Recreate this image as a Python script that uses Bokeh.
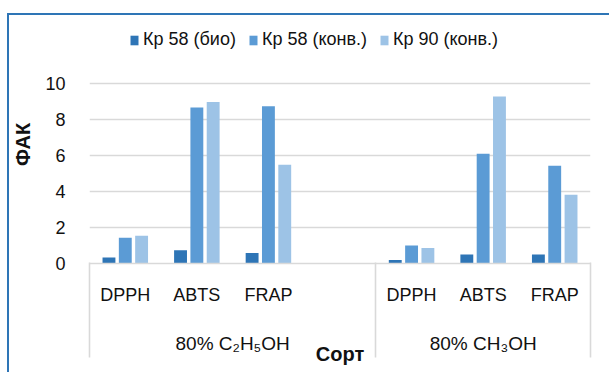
import numpy as np
from bokeh.plotting import figure
from bokeh.models import (Range1d, ColumnDataSource, Legend, LegendItem,
                          LinearAxis, FixedTicker, Spacer)
from bokeh.layouts import row, column
from bokeh.embed import file_html
from bokeh.resources import INLINE

# ---- data ----
groups = ["80% C₂H₅OH", "80% CH₃OH"]
methods_c2h5oh = ["DPPH", "ABTS", "FRAP", ""]
methods_ch3oh = ["DPPH", "ABTS", "FRAP"]
series_names = ["Кр 58 (био)", "Кр 58 (конв.)", "Кр 90 (конв.)"]
kr58_bio = [0.33, 0.74, 0.58, np.nan, 0.19, 0.50, 0.50]
kr58_konv = [1.43, 8.67, 8.74, np.nan, 1.00, 6.09, 5.43]
kr90_konv = [1.54, 8.97, 5.49, np.nan, 0.86, 9.28, 3.82]
y_ticks = [0, 2, 4, 6, 8, 10]
y_label = "ФАК"
x_label = "Сорт"

colors = ["#2E75B6", "#5B9BD5", "#9DC3E6"]
FONT = "Liberation Sans"
TXT = "#111111"
GRID = "#D9D9D9"
EDGE = "#2E75B6"

# category slots on a numeric axis (one unit per slot)
methods = methods_c2h5oh + methods_ch3oh
n = len(methods)
centers = np.arange(n) + 0.5
sep_pos = [0, len(methods_c2h5oh), n]
group_centers = [len(methods_c2h5oh) / 2, len(methods_c2h5oh) + len(methods_ch3oh) / 2]

off = 0.228
w = 0.18
source = ColumnDataSource(data=dict(x=centers, bio=kr58_bio, konv=kr58_konv, k90=kr90_konv,
                                    x1=centers - off, x3=centers + off))

# the value axis reaches 10; headroom above it holds the legend
fig = figure(width=600, height=357, x_range=Range1d(0, n), y_range=Range1d(0, 13.22),
             output_backend="svg", toolbar_location=None,
             min_border_left=75, min_border_right=19, min_border_top=10, min_border_bottom=109)
fig.outline_line_color = None
fig.background_fill_color = "white"
fig.border_fill_color = "white"

r1 = fig.vbar(x="x1", top="bio", width=w, source=source, fill_color=colors[0], line_color=None)
r2 = fig.vbar(x="x", top="konv", width=w, source=source, fill_color=colors[1], line_color=None)
r3 = fig.vbar(x="x3", top="k90", width=w, source=source, fill_color=colors[2], line_color=None)

# grid
fig.xgrid.grid_line_color = None
fig.ygrid.grid_line_color = GRID
fig.ygrid.grid_line_width = 1.6
fig.ygrid.ticker = FixedTicker(ticks=y_ticks)

# y axis
ya = fig.yaxis[0]
ya.ticker = FixedTicker(ticks=y_ticks)
ya.axis_line_color = None
ya.major_tick_line_color = None
ya.minor_tick_line_color = None
ya.major_label_standoff = 18
ya.major_label_text_font = FONT
ya.major_label_text_font_size = "18px"
ya.major_label_text_color = TXT
ya.axis_label = y_label
ya.axis_label_text_font = FONT
ya.axis_label_text_font_size = "20px"
ya.axis_label_text_font_style = "bold"
ya.axis_label_text_color = TXT
ya.axis_label_standoff = 8

# inner x labels (methods)
xa = fig.xaxis[0]
label_ticks = [float(c) for c, m in zip(centers, methods) if m]
xa.ticker = FixedTicker(ticks=label_ticks, minor_ticks=[])
xa.major_label_overrides = {float(c): m for c, m in zip(centers, methods) if m}
xa.axis_line_color = GRID
xa.axis_line_width = 1.6
xa.major_tick_line_color = None
xa.minor_tick_line_color = None
xa.major_tick_out = 0
xa.major_tick_in = 0
xa.minor_tick_out = 0
xa.minor_tick_in = 0
xa.major_label_standoff = 21
xa.major_label_text_font = FONT
xa.major_label_text_font_size = "18px"
xa.major_label_text_color = TXT

# outer x labels (groups), group separators (minor ticks) and axis title
ga = LinearAxis(ticker=FixedTicker(ticks=group_centers, minor_ticks=sep_pos),
                major_label_overrides={float(c): g for c, g in zip(group_centers, groups)},
                axis_line_color=None, major_tick_line_color=None,
                major_tick_out=0, major_tick_in=0,
                minor_tick_in=45, minor_tick_out=50,
                minor_tick_line_color=GRID, minor_tick_line_width=1.6,
                major_label_standoff=-25,
                major_label_text_font=FONT, major_label_text_font_size="19px",
                major_label_text_color=TXT,
                axis_label=x_label, axis_label_text_font=FONT, axis_label_text_font_size="20px",
                axis_label_text_font_style="bold", axis_label_text_color=TXT,
                axis_label_standoff=-14)
fig.add_layout(ga, "below")

# legend, inside the headroom at the top of the plot area
legend = Legend(items=[LegendItem(label=series_names[0], renderers=[r1]),
                       LegendItem(label=series_names[1], renderers=[r2]),
                       LegendItem(label=series_names[2], renderers=[r3])],
                orientation="horizontal", location=(40, 213),
                padding=0, margin=0, spacing=12, label_standoff=4,
                glyph_width=10, glyph_height=12,
                border_line_color=None, background_fill_alpha=0,
                label_text_font=FONT, label_text_font_size="18px", label_text_color=TXT)
fig.add_layout(legend)

# outer chart border (top and left edges) built from thin coloured spacers
top_edge = Spacer(width=602, height=2, styles={"background-color": EDGE})
left_edge = Spacer(width=2, height=357, styles={"background-color": EDGE})
p = column(Spacer(width=609, height=13),
           row(Spacer(width=7, height=359),
               column(top_edge, row(left_edge, fig, spacing=0), spacing=0),
               spacing=0),
           spacing=0)

open("out.html", "w").write(file_html(p, INLINE))
